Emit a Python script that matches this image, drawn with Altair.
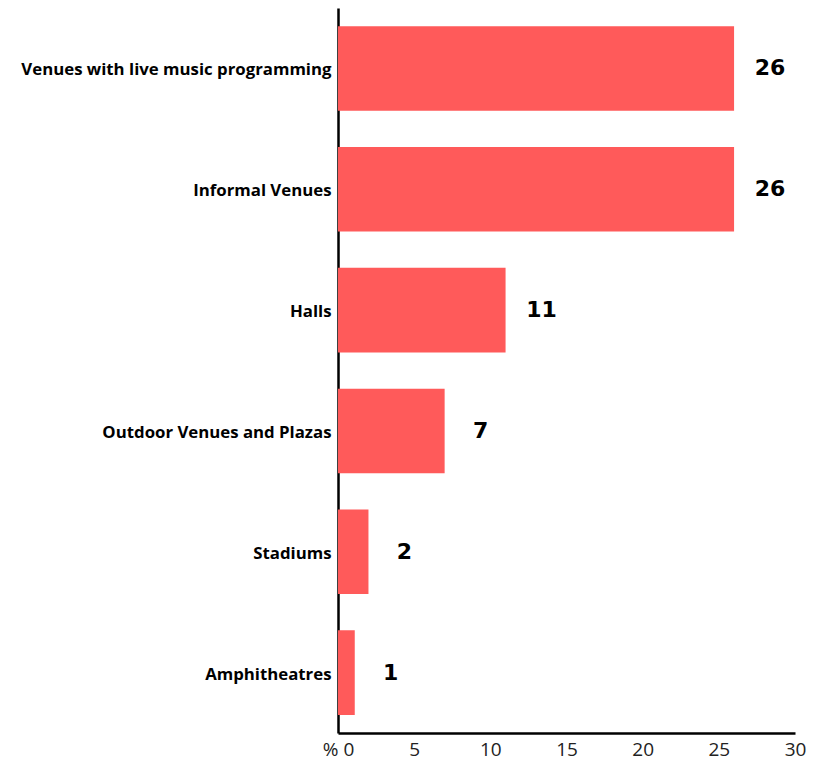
import altair as alt
import pandas as pd

categories = ["Venues with live music programming", "Informal Venues", "Halls",
              "Outdoor Venues and Plazas", "Stadiums", "Amphitheatres"]
values = [26, 26, 11, 7, 2, 1.1]
labels = ["26", "26", "11", "7", "2", "1"]

df = pd.DataFrame({"cat": categories, "val": values, "lab": labels})

y = alt.Y("cat:N", sort=categories, title=None,
          scale=alt.Scale(paddingInner=0.3, paddingOuter=0.15),
          axis=alt.Axis(domain=True, domainColor="black", domainWidth=2.5, ticks=False,
                        labelFont="Open Sans", labelFontWeight="bold", labelFontSize=16.8,
                        labelColor="black", labelPadding=7, labelLimit=400, labelOffset=2))
x = alt.X("val:Q", title=None, scale=alt.Scale(domain=[0, 30], nice=False),
          axis=alt.Axis(values=[0, 5, 10, 15, 20, 25, 30], grid=False, ticks=False,
                        domain=True, domainColor="black", domainWidth=2.5,
                        labelFlush=False,
                        labelExpr="datum.value == 0 ? '% 0' : datum.label",
                        labelFont="Open Sans", labelFontSize=19, labelColor="#222222",
                        labelPadding=7))

bars = alt.Chart(df).mark_bar(color="#FF5A5A").encode(x=x, y=y)
text = alt.Chart(df).mark_text(align="center", dx=36, font="DejaVu Sans", fontWeight="bold",
                               fontSize=22, color="black").encode(
    x="val:Q", y=alt.Y("cat:N", sort=categories), text="lab:N")

chart = (bars + text).properties(
    width=457, height=725,
    autosize=alt.AutoSizeParams(type="none"),
    padding={"left": 330, "top": 0, "right": 16, "bottom": 32},
).configure_view(stroke=None)

chart.save("out.html", embed_options={"renderer": "svg", "actions": False})
